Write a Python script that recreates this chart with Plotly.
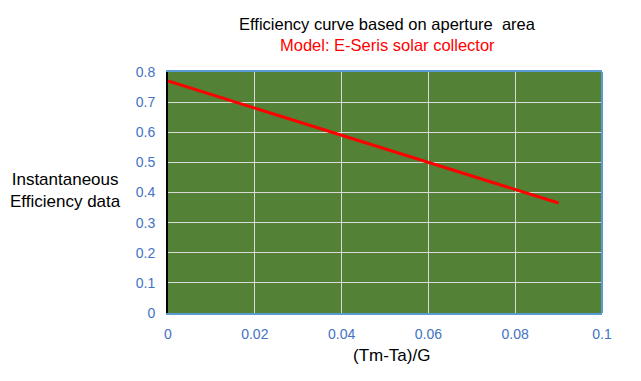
import plotly.graph_objects as go

x_vals = [0.0, 0.01, 0.02, 0.03, 0.04, 0.05, 0.06, 0.07, 0.08, 0.09]
eff_vals = [0.770, 0.725, 0.680, 0.635, 0.590, 0.545, 0.500, 0.455, 0.410, 0.365]

title_text = "Efficiency curve based on aperture  area"
subtitle_text = "Model: E-Seris solar collector"
x_title = "(Tm-Ta)/G"
y_title = "Instantaneous<br>Efficiency data"

x_ticks = [0, 0.02, 0.04, 0.06, 0.08, 0.1]
x_ticklabels = ["0", "0.02", "0.04", "0.06", "0.08", "0.1"]
y_ticks = [0, 0.1, 0.2, 0.3, 0.4, 0.5, 0.6, 0.7, 0.8]
y_ticklabels = ["0", "0.1", "0.2", "0.3", "0.4", "0.5", "0.6", "0.7", "0.8"]

FONT = "Liberation Sans, Arial, sans-serif"
TICK_BLUE = "#4472C4"
BORDER_BLUE = "#5B9BD5"
GREEN = "#538135"

fig = go.Figure()
fig.add_trace(go.Scatter(x=x_vals, y=eff_vals, mode="lines",
                         line=dict(color="#FF0000", width=3), showlegend=False,
                         hoverinfo="skip"))

OFF = 8  # page offset of the figure in the browser window
W, H = 641, 381
# target plot area in window pixels: left 168, right 602, top 72, bottom 313
L = 168 - OFF
T = 72 - OFF
R = W - (602 - OFF)
B = H - (313 - OFF)
ph = H - T - B
pw = W - L - R

def py(pix):
    return 1 - (pix - OFF - T) / ph

def px(pix):
    return (pix - OFF - L) / pw

fig.update_layout(
    width=W, height=H,
    margin=dict(l=L, r=R, t=T, b=B),
    paper_bgcolor="white",
    plot_bgcolor=GREEN,
    font=dict(family=FONT),
    xaxis=dict(range=[0, 0.1], tickvals=x_ticks, ticktext=x_ticklabels,
               showgrid=True, gridcolor="#D9D9D9", gridwidth=1,
               zeroline=False, showline=True, linecolor=BORDER_BLUE, linewidth=2,
               mirror=True, ticks="", ticklabelstandoff=7,
               tickfont=dict(color=TICK_BLUE, size=14, family=FONT)),
    yaxis=dict(range=[0, 0.8], tickvals=y_ticks, ticktext=y_ticklabels,
               showgrid=True, gridcolor="#D9D9D9", gridwidth=1,
               zeroline=False, showline=True, linecolor="black", linewidth=2,
               ticks="", ticklabelstandoff=8,
               tickfont=dict(color=TICK_BLUE, size=14, family=FONT)),
    shapes=[dict(type="line", xref="paper", yref="paper", x0=1, x1=1, y0=0, y1=1,
                 line=dict(color=BORDER_BLUE, width=2), layer="above")],
    annotations=[
        dict(text=title_text, xref="paper", yref="paper", x=px(387), y=py(24),
             xanchor="center", yanchor="middle", showarrow=False,
             font=dict(size=16.5, color="black", family=FONT)),
        dict(text=subtitle_text, xref="paper", yref="paper", x=px(387), y=py(45),
             xanchor="center", yanchor="middle", showarrow=False,
             font=dict(size=16.5, color="#FF0000", family=FONT)),
        dict(text=x_title, xref="paper", yref="paper", x=px(391), y=py(355),
             xanchor="center", yanchor="middle", showarrow=False,
             font=dict(size=17, color="black", family=FONT)),
        dict(text=y_title, xref="paper", yref="paper", x=px(65), y=py(190),
             xanchor="center", yanchor="middle", showarrow=False, align="center",
             font=dict(size=17, color="black", family=FONT)),
    ],
)

fig.write_html("out.html")
